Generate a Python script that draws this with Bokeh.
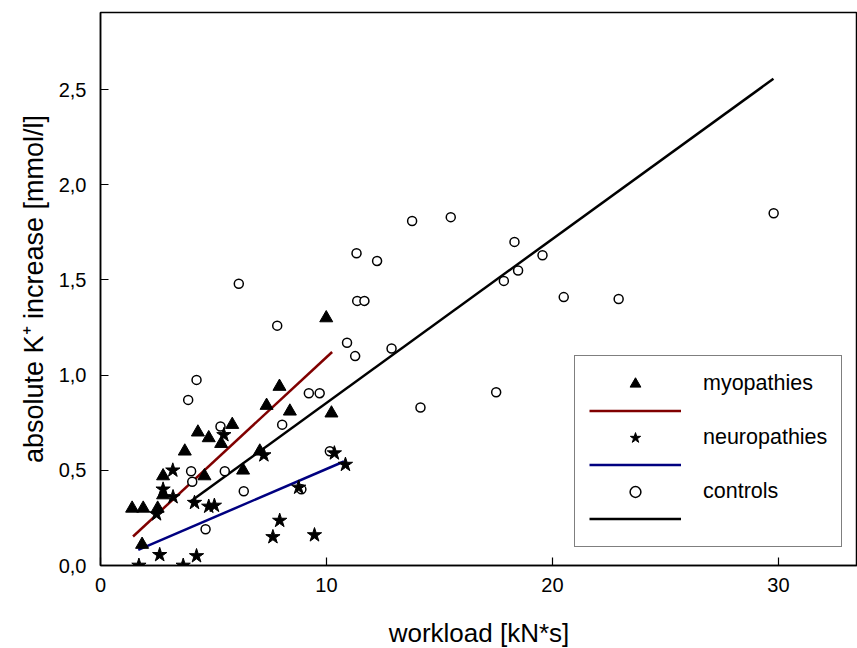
import numpy as np
from bokeh.plotting import figure
from bokeh.models import Range1d, FixedTicker, Legend, LegendItem
from bokeh.core.properties import value
from bokeh.embed import file_html
from bokeh.resources import INLINE

# ---- data ----
myo_x = [1.40, 1.89, 2.53, 1.84, 2.77, 2.77, 3.73, 4.31, 4.79, 5.34, 5.83, 4.60,
         6.31, 7.05, 7.35, 7.92, 8.38, 9.99, 10.22]
myo_y = [0.30, 0.30, 0.30, 0.11, 0.47, 0.37, 0.60, 0.70, 0.67, 0.64, 0.74, 0.47,
         0.50, 0.60, 0.84, 0.94, 0.81, 1.30, 0.80]

neuro_x = [1.70, 2.62, 3.66, 4.25, 2.48, 2.77, 3.20, 3.21, 4.16, 4.79, 5.04, 5.46,
           7.23, 7.63, 7.93, 8.77, 9.47, 10.35, 10.84]
neuro_y = [0.00, 0.056, 0.00, 0.05, 0.27, 0.40, 0.50, 0.36, 0.33, 0.31, 0.315, 0.686,
           0.58, 0.15, 0.236, 0.41, 0.16, 0.59, 0.53]

ctrl_x = [6.12, 7.82, 4.25, 3.88, 5.31, 8.04, 4.01, 4.06, 5.50, 6.34, 4.65, 9.22,
          9.70, 10.91, 11.27, 11.33, 12.24, 11.36, 11.68, 12.88, 13.79, 15.50, 18.32,
          19.56, 18.48, 17.85, 20.50, 22.93, 29.79, 17.51, 14.16, 10.15, 8.89]
ctrl_y = [1.48, 1.26, 0.975, 0.87, 0.73, 0.74, 0.495, 0.44, 0.495, 0.39, 0.19, 0.905,
          0.905, 1.17, 1.10, 1.64, 1.60, 1.39, 1.39, 1.14, 1.81, 1.83, 1.70,
          1.63, 1.55, 1.495, 1.41, 1.40, 1.85, 0.91, 0.83, 0.60, 0.40]

# regression lines: [x_start, x_end], slope, intercept
myo_fit_range = [1.44, 10.25]
myo_fit_slope, myo_fit_intercept = 0.110, -0.006
neuro_fit_range = [1.67, 10.77]
neuro_fit_slope, neuro_fit_intercept = 0.051, -0.003
ctrl_fit_range = [3.95, 29.78]
ctrl_fit_slope, ctrl_fit_intercept = 0.0861, -0.007

x_ticks = [0, 10, 20, 30]
x_tick_labels = ["0", "10", "20", "30"]
y_ticks = [0.0, 0.5, 1.0, 1.5, 2.0, 2.5]
y_tick_labels = ["0,0", "0,5", "1,0", "1,5", "2,0", "2,5"]

labels = ["myopathies", "neuropathies", "controls"]

FONT = "Liberation Sans"

p = figure(frame_width=757, frame_height=553,
           x_range=Range1d(0, 33.5), y_range=Range1d(0, 2.905),
           output_backend="svg", toolbar_location=None,
           min_border_left=100, min_border_top=12, min_border_bottom=83, min_border_right=0)
p.xgrid.visible = False
p.ygrid.visible = False
p.outline_line_color = "black"
p.outline_line_width = 1.5
p.background_fill_color = "white"
p.border_fill_color = "white"

for ax in (p.xaxis[0], p.yaxis[0]):
    ax.axis_line_color = "black"
    ax.axis_line_width = 1.5
    ax.major_tick_line_color = "black"
    ax.major_tick_line_width = 1.2
    ax.major_tick_in = 8
    ax.major_tick_out = 0
    ax.minor_tick_line_color = None
    ax.major_label_text_font = FONT
    ax.major_label_text_font_size = "20px"
    ax.major_label_text_color = "black"
    ax.axis_label_text_font = FONT
    ax.axis_label_text_font_style = "normal"
    ax.axis_label_text_color = "black"

p.xaxis.ticker = FixedTicker(ticks=x_ticks)
p.xaxis.major_label_overrides = {t: l for t, l in zip(x_ticks, x_tick_labels)}
p.yaxis.ticker = FixedTicker(ticks=y_ticks)
p.yaxis.major_label_overrides = {t: l for t, l in zip(y_ticks, y_tick_labels)}
p.xaxis.axis_label = "workload [kN*s]"
p.yaxis.axis_label = "absolute K\u207a increase [mmol/l]"
p.xaxis.axis_label_text_font_size = "26px"
p.yaxis.axis_label_text_font_size = "27px"
p.xaxis.major_label_standoff = 12
p.yaxis.major_label_standoff = 14
p.xaxis.axis_label_standoff = 23
p.yaxis.axis_label_standoff = 7

# fit lines
def fit(rng, slope, intercept):
    xs = np.array(rng, dtype=float)
    return xs, slope * xs + intercept

fx, fy = fit(myo_fit_range, myo_fit_slope, myo_fit_intercept)
l_myo = p.line(fx, fy, line_color="#800000", line_width=2.5)
fx, fy = fit(neuro_fit_range, neuro_fit_slope, neuro_fit_intercept)
l_neuro = p.line(fx, fy, line_color="#000080", line_width=2.5)
fx, fy = fit(ctrl_fit_range, ctrl_fit_slope, ctrl_fit_intercept)
l_ctrl = p.line(fx, fy, line_color="black", line_width=2.5)

r_ctrl = p.scatter(ctrl_x, ctrl_y, marker="circle", size=9, fill_color="white",
                   line_color="black", line_width=1.5)
r_myo = p.scatter(myo_x, myo_y, marker="triangle", size=13, fill_color="black",
                  line_color="black")
r_neuro = p.scatter(neuro_x, neuro_y, marker="star", size=15, fill_color="black",
                    line_color="black")

items = [
    LegendItem(label=value(labels[0]), renderers=[r_myo]),
    LegendItem(label=value(" "), renderers=[l_myo]),
    LegendItem(label=value(labels[1]), renderers=[r_neuro]),
    LegendItem(label=value(" "), renderers=[l_neuro]),
    LegendItem(label=value(labels[2]), renderers=[r_ctrl]),
    LegendItem(label=value(" "), renderers=[l_ctrl]),
]
legend = Legend(items=items, location=(474, 18), glyph_width=92, glyph_height=27,
                label_height=27, spacing=0, padding=14, margin=0, label_standoff=22,
                label_text_font=FONT, label_text_font_size="21.5px",
                label_text_color="black",
                border_line_color="black", border_line_width=1.5,
                background_fill_color="white", background_fill_alpha=1.0)
p.add_layout(legend)

open("out.html", "w").write(file_html(p, INLINE))
